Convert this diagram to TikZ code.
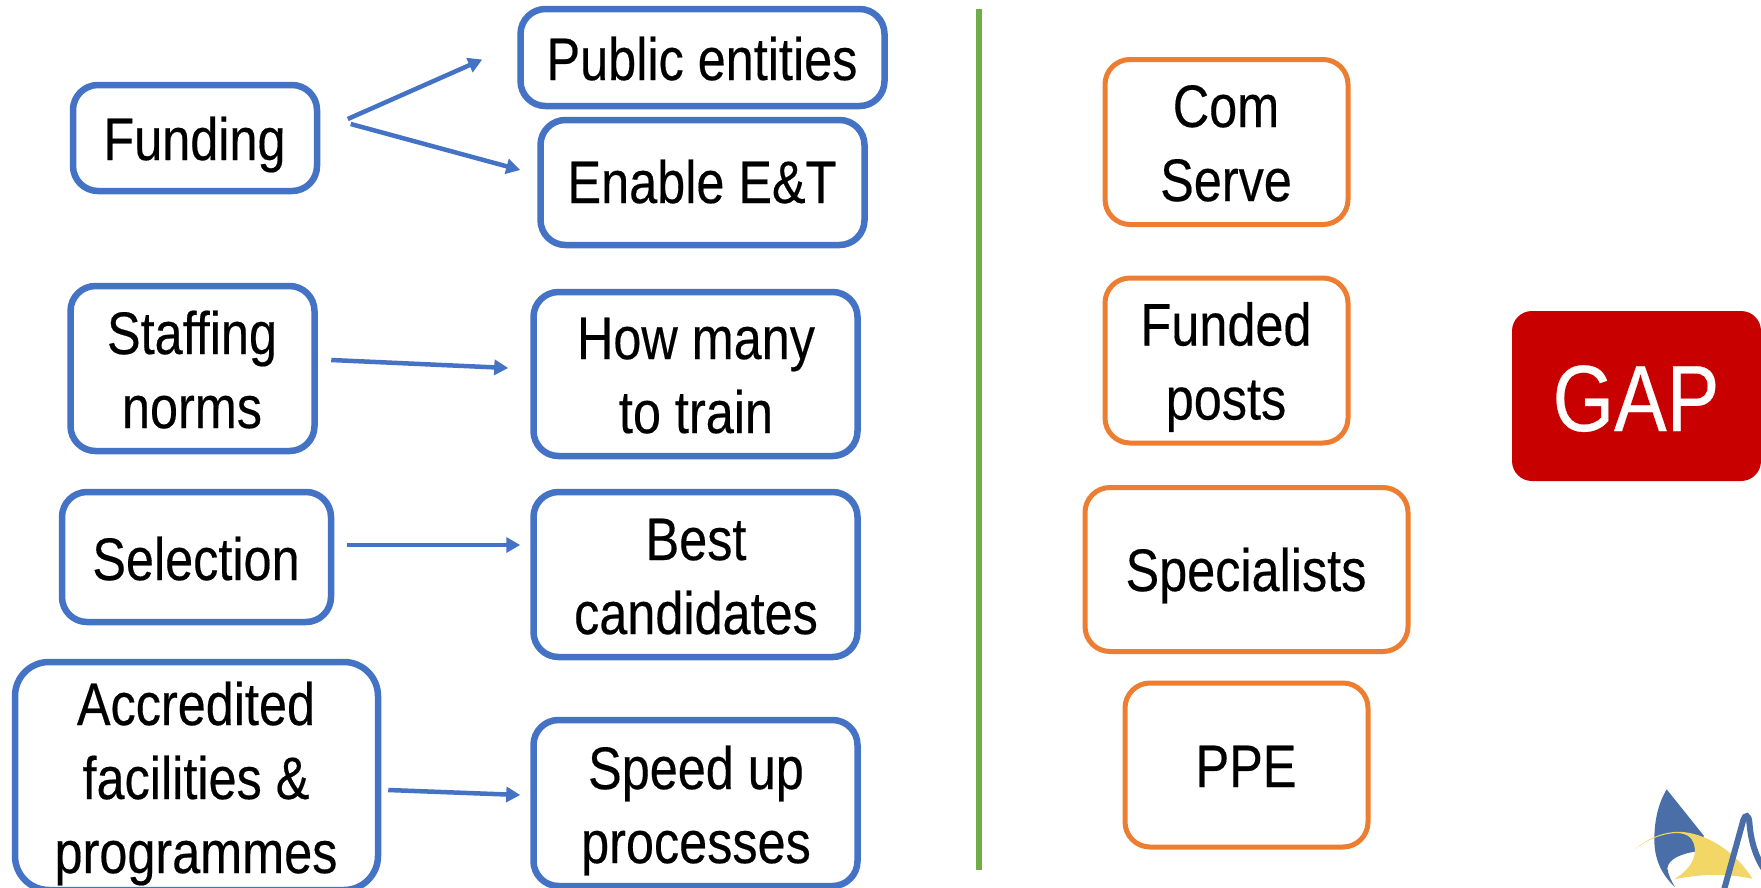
\documentclass[tikz,border=0pt]{standalone}
\usepackage{fontspec}
\setmainfont[FakeStretch=0.84,FakeBold=0.3]{Liberation Sans}
\usetikzlibrary{arrows.meta}
\definecolor{bluebox}{HTML}{4472C4}
\definecolor{orangebox}{HTML}{ED7D31}
\definecolor{greenbar}{HTML}{70AD47}
\definecolor{redbox}{HTML}{C90000}
\definecolor{logoblue}{HTML}{4A6FA8}
\definecolor{logoyellow}{HTML}{F2D766}
\tikzset{
  x=1pt,y=-1pt,
  bluenode/.style={draw=bluebox,line width=6.5pt,rounded corners=25pt,inner sep=0pt,fill=white},
  orangenode/.style={draw=orangebox,line width=5pt,rounded corners=25pt,inner sep=0pt,fill=white},
  lbl/.style={anchor=base,align=center,inner sep=0pt,font=\fontsize{60}{74}\selectfont,text=black},
  arr/.style={draw=bluebox,line width=4.5pt,-{Triangle[length=14pt,width=15pt]}},
}
\begin{document}
\begin{tikzpicture}
\useasboundingbox (0,0) rectangle (1761,887);
\fill[white] (0,0) rectangle (1761,887);
% blue boxes
\node[bluenode,minimum width=244pt,minimum height=106pt] (funding) at (195,138) {};
\node[bluenode,minimum width=364pt,minimum height=97pt] (public) at (702.5,57.5) {};
\node[bluenode,minimum width=324pt,minimum height=125pt] (enable) at (702.5,182.5) {};
\node[bluenode,minimum width=244pt,minimum height=165pt] (staffing) at (192.5,368.5) {};
\node[bluenode,minimum width=324pt,minimum height=164pt] (howmany) at (695.5,374) {};
\node[bluenode,minimum width=269pt,minimum height=130pt] (selection) at (196.5,557) {};
\node[bluenode,minimum width=324pt,minimum height=165pt] (best) at (695.5,574.5) {};
\node[bluenode,minimum width=363pt,minimum height=228pt,rounded corners=34pt] (accredited) at (196.5,776) {};
\node[bluenode,minimum width=324pt,minimum height=166pt] (speed) at (695.5,803) {};
% orange boxes
\node[orangenode,minimum width=243pt,minimum height=165pt] (com) at (1226.5,142) {};
\node[orangenode,minimum width=243pt,minimum height=165pt] (funded) at (1226.5,360.5) {};
\node[orangenode,minimum width=323pt,minimum height=164pt] (specialists) at (1246.5,569.5) {};
\node[orangenode,minimum width=243pt,minimum height=164pt] (ppe) at (1246.5,765) {};
\node[fill=redbox,rounded corners=20pt,minimum width=249pt,minimum height=170pt,inner sep=0pt] (gap) at (1636.5,396) {};
% labels
\node[lbl] (tfunding) at (194.5,160) {Funding};
\node[lbl] (tpublic) at (702,80) {Public entities};
\node[lbl] (tenable) at (702,203) {Enable E\&T};
\node[lbl] (tstaffing) at (192,428) {Staffing\\norms};
\node[lbl] (thow) at (696,433) {How many\\to train};
\node[lbl] (tselection) at (196,580) {Selection};
\node[lbl] (tbest) at (696,634) {Best\\candidates};
\node[lbl] (taccredited) at (196,873) {Accredited\\facilities \&\\programmes};
\node[lbl] (tspeed) at (696,863) {Speed up\\processes};
\node[lbl] (tcom) at (1226,201) {Com\\Serve};
\node[lbl] (tfunded) at (1226,419.5) {Funded\\posts};
\node[lbl] (tspecialists) at (1246,591) {Specialists};
\node[lbl] (tppe) at (1246,787) {PPE};
\node[lbl,font=\fontsize{94}{100}\selectfont,text=white] (tgap) at (1636,431) {GAP};
% arrows
\draw[arr] ([shift={(27.5,-19)}]funding.east) -- ([shift={(-35,2)}]public.west);
\draw[arr] ([shift={(30.5,-14)}]funding.east) -- ([shift={(-17,-12.5)}]enable.west);
\draw[arr] ([shift={(13.5,-8.5)}]staffing.east) -- ([shift={(-22,-6)}]howmany.west);
\draw[arr] ([shift={(12.5,-12)}]selection.east) -- ([shift={(-10,-29.5)}]best.west);
\draw[arr] ([shift={(7,14)}]accredited.east) -- ([shift={(-10,-8)}]speed.west);
% divider
\coordinate (bartop) at (979,9);
\coordinate (barbottom) at (979,870);
\draw[greenbar,line width=5.5pt] (bartop) -- (barbottom);
% logo
\begin{scope}[shift={(1560,740)},x=0.3333pt,y=-0.3333pt]
\clip (0,0) rectangle (603,441);
\fill[logoblue] (320,148) -- (432,288) -- (405,320) -- (405,335) .. controls (370,340) and (325,355) .. (322,385) .. controls (325,405) and (335,425) .. (345,441) .. controls (300,400) and (283,350) .. (283,300) .. controls (283,240) and (295,190) .. (320,148) -- cycle;
\fill[logoyellow] (225,327) .. controls (270,290) and (320,272) .. (370,276) .. controls (450,285) and (530,340) .. (577,416) .. controls (500,400) and (420,402) .. (342,418) .. controls (380,395) and (405,365) .. (405,330) .. controls (402,295) and (385,280) .. (350,279) .. controls (310,280) and (265,297) .. (225,327) -- cycle;
\draw[logoblue,line width=6pt,line cap=round] (492,450) -- (550,240) .. controls (556,222) and (566,225) .. (568,245) .. controls (572,300) and (585,350) .. (620,400);
\end{scope}
\end{tikzpicture}
\end{document}
